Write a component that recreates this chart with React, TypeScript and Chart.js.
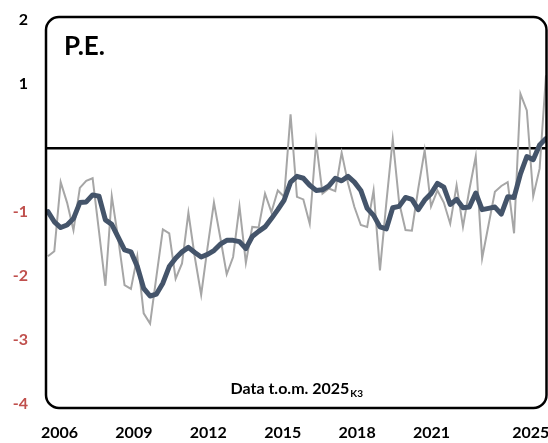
import React, { useEffect, useRef } from 'react';
import { Chart, registerables } from 'chart.js';

Chart.register(...registerables);

// Quarterly values, 2006K1 .. 2025K3 (thin grey line)
const quarterly: number[] = [
  -1.69, -1.61, -0.53, -0.85, -1.28, -0.62, -0.51, -0.47, -1.3, -2.15, -0.75, -1.41, -2.14, -2.2, -1.69, -2.58,
  -2.74, -2.0, -1.27, -1.33, -2.04, -1.8, -1.01, -1.7, -2.29, -1.55, -0.85, -1.4, -1.97, -1.7, -0.91, -1.79,
  -1.23, -1.24, -0.71, -1.0, -0.66, -0.76, 0.53, -0.76, -0.8, -1.18, 0.1, -0.71, -0.63, -0.67, -0.07, -0.55,
  -0.92, -1.2, -1.23, -0.66, -1.91, -0.85, 0.14, -0.85, -1.28, -1.29, -0.63, -0.03, -0.91, -0.66, -0.85, -1.18,
  -0.58, -1.23, -0.65, -0.13, -1.72, -1.2, -0.68, -0.59, -0.53, -1.33, 0.85, 0.59, -0.75, -0.32, 1.14,
];

// Smoothed trend (thick dark line)
const trend: number[] = [
  -0.99, -1.15, -1.24, -1.2, -1.1, -0.85, -0.84, -0.73, -0.75, -1.12, -1.19, -1.39, -1.59, -1.62, -1.85, -2.19,
  -2.31, -2.28, -2.11, -1.85, -1.72, -1.62, -1.55, -1.63, -1.7, -1.66, -1.6, -1.5, -1.44, -1.44, -1.46, -1.57,
  -1.38, -1.3, -1.23, -1.1, -0.96, -0.81, -0.53, -0.44, -0.47, -0.58, -0.66, -0.65, -0.59, -0.47, -0.51, -0.44,
  -0.53, -0.66, -0.94, -1.05, -1.23, -1.26, -0.93, -0.91, -0.77, -0.8, -0.96, -0.81, -0.71, -0.55, -0.61, -0.88,
  -0.8, -0.93, -0.92, -0.7, -0.96, -0.94, -0.92, -1.03, -0.76, -0.77, -0.4, -0.13, -0.18, 0.05, 0.15,
];

const yTickValues: number[] = [-4, -3, -2, -1, 0, 1, 2];
const xLabelYears: number[] = [2006, 2009, 2012, 2015, 2018, 2021, 2025];
const titleText = 'P.E.';
const footText = 'Data t.o.m. 2025';
const footSub = 'K3';

const FONT = 'Lato, Carlito, "Open Sans", sans-serif';
const W = 548;
const H = 443;

const boxPlugin = {
  id: 'boxAndText',
  afterDatasetsDraw(chart: any) {
    const { ctx, chartArea } = chart;
    const { left, right, top, bottom } = chartArea;
    ctx.save();
    ctx.lineWidth = 2.5;
    ctx.strokeStyle = '#000';
    ctx.beginPath();
    (ctx as any).roundRect(left, top, right - left, bottom - top, 13);
    ctx.stroke();

    ctx.fillStyle = '#000';
    ctx.textAlign = 'left';
    ctx.textBaseline = 'alphabetic';
    ctx.font = `bold 26px ${FONT}`;
    ctx.fillText(titleText, left + 18, top + 38);

    ctx.font = `bold 16px ${FONT}`;
    const w1 = ctx.measureText(footText).width;
    ctx.font = `bold 10px ${FONT}`;
    const w2 = ctx.measureText(footSub).width;
    const x0 = (left + right) / 2 - (w1 + w2) / 2;
    const base = bottom - 14;
    ctx.font = `bold 16px ${FONT}`;
    ctx.fillText(footText, x0, base);
    ctx.font = `bold 10px ${FONT}`;
    ctx.fillText(footSub, x0 + w1 + 1, base + 3);
    ctx.restore();
  },
};

export default function App() {
  const ref = useRef<HTMLCanvasElement | null>(null);

  useEffect(() => {
    if (!ref.current) return;
    const chart = new Chart(ref.current, {
      type: 'line',
      data: {
        datasets: [
          {
            label: 'Kwartaal',
            data: quarterly.map((v, i) => ({ x: i, y: v })),
            borderColor: '#a6a6a6',
            borderWidth: 2,
            pointRadius: 0,
            tension: 0,
            order: 1,
            xAxisID: 'x',
            yAxisID: 'y',
          },
          {
            label: 'Trend',
            data: trend.map((v, i) => ({ x: i, y: v })),
            borderColor: '#44546a',
            borderWidth: 5,
            pointRadius: 0,
            tension: 0,
            borderJoinStyle: 'round',
            borderCapStyle: 'round',
            order: 0,
            xAxisID: 'x',
            yAxisID: 'y',
          },
        ],
      },
      options: {
        responsive: false,
        animation: false,
        devicePixelRatio: 1,
        layout: { padding: { top: 17, right: 1.5, bottom: 0, left: 0 } },
        plugins: { legend: { display: false }, tooltip: { enabled: false } },
        scales: {
          x: { type: 'linear', min: -0.3, max: 78.08, display: false },
          xl: {
            type: 'linear',
            position: 'bottom',
            min: 2005.456,
            max: 2025.637,
            grid: { display: false, drawTicks: false },
            border: { display: false },
            afterBuildTicks: (s: any) => {
              s.ticks = xLabelYears.map((v) => ({ value: v }));
            },
            afterFit: (s: any) => {
              s.height = 35;
              s.paddingLeft = 0;
              s.paddingRight = 0;
              s.paddingTop = 0;
              s.paddingBottom = 0;
            },
            ticks: {
              autoSkip: false,
              maxRotation: 0,
              minRotation: 0,
              padding: 15,
              color: '#000',
              font: { family: FONT, size: 16, weight: 'bold' },
              callback: (v: any) => String(v),
            },
          },
          y: {
            type: 'linear',
            min: -4.06,
            max: 2.05,
            afterBuildTicks: (s: any) => {
              s.ticks = yTickValues.map((v) => ({ value: v }));
            },
            afterFit: (s: any) => {
              s.width = 46;
              s.paddingTop = 0;
              s.paddingBottom = 0;
              s.paddingLeft = 0;
              s.paddingRight = 0;
            },
            border: { display: false },
            grid: {
              drawTicks: false,
              color: (c: any) => (c.tick && c.tick.value === 0 ? '#000' : 'rgba(0,0,0,0)'),
              lineWidth: (c: any) => (c.tick && c.tick.value === 0 ? 2.5 : 0),
            },
            ticks: {
              padding: 18,
              color: (c: any) => (c.tick && c.tick.value < 0 ? '#c0504d' : '#000'),
              font: { family: FONT, size: 16, weight: 'bold' },
              callback: (v: any) => (v === 0 ? '' : String(v)),
            },
          },
        },
      } as any,
      plugins: [boxPlugin],
    });
    return () => chart.destroy();
  }, []);

  return (
    <div style={{ position: 'absolute', left: 0, top: 0, width: W, height: H, background: '#fff' }}>
      <canvas ref={ref} width={W} height={H} style={{ display: 'block' }} />
    </div>
  );
}
